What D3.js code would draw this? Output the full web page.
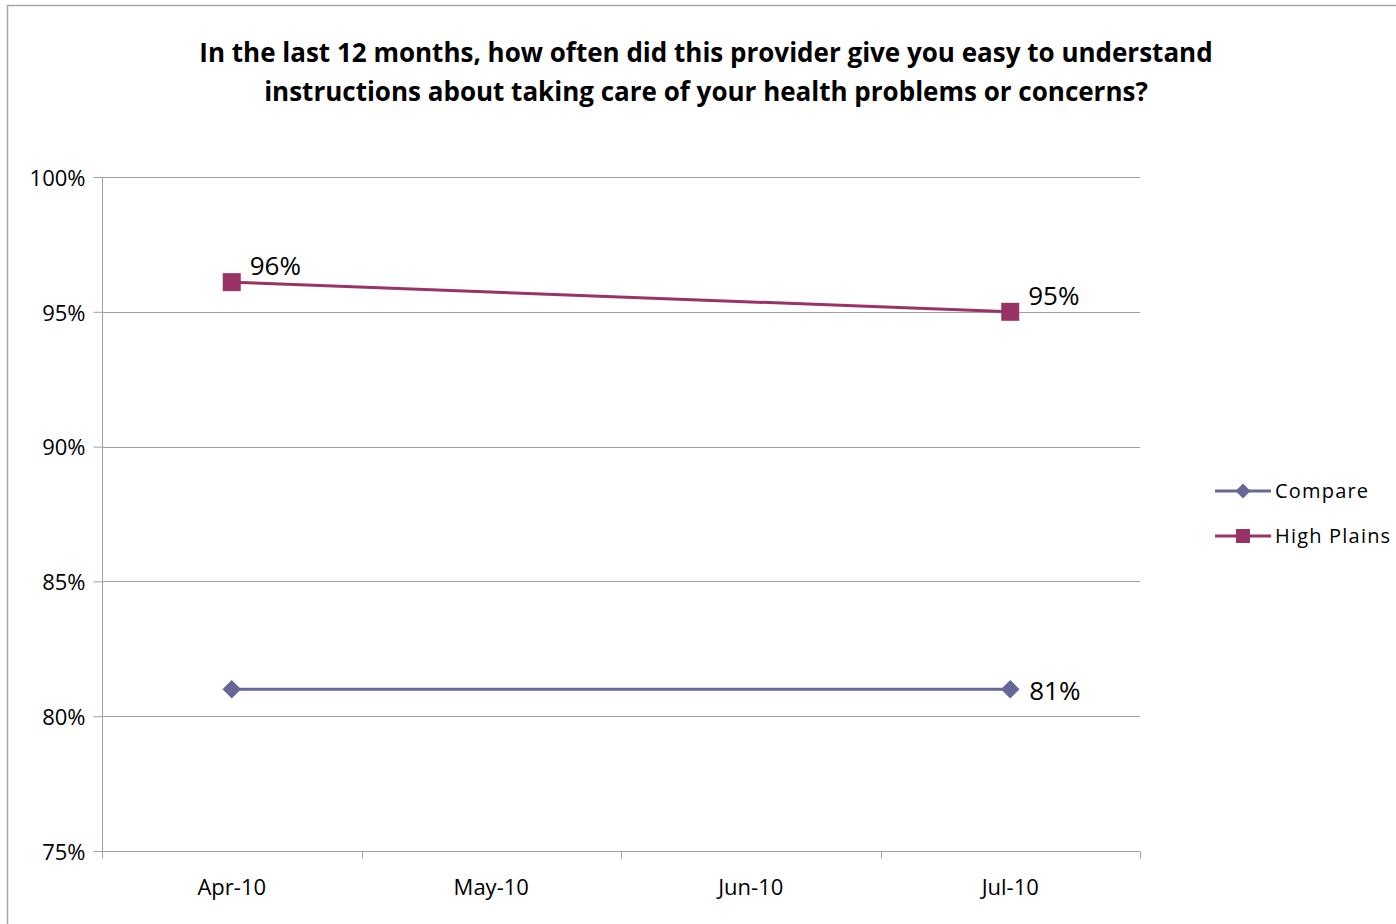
<!DOCTYPE html>
<html><head><meta charset="utf-8">
<script src="https://cdn.jsdelivr.net/npm/d3@7"></script>
<style>body{margin:0;background:#fff}svg{display:block}</style>
</head><body>
<script>
const titleLines = ["In the last 12 months, how often did this provider give you easy to understand",
  "instructions about taking care of your health problems or concerns?"];
const categories = ["Apr-10", "May-10", "Jun-10", "Jul-10"];
const yTicks = [0.75, 0.80, 0.85, 0.90, 0.95, 1.00];
const seriesNames = ["Compare", "High Plains"];
const compareValues = [{cat: "Apr-10", v: 0.81}, {cat: "Jul-10", v: 0.81}];
const highPlainsValues = [{cat: "Apr-10", v: 0.961}, {cat: "Jul-10", v: 0.950}];
const compareLabels = [null, "81%"];
const highPlainsLabels = ["96%", "95%"];

const W = 1396, H = 924;
const svg = d3.select("body").append("svg").attr("width", W).attr("height", H);
const font = "'Open Sans', sans-serif";

svg.append("rect").attr("x", 7.5).attr("y", 5.5).attr("width", 1400).attr("height", 940)
  .attr("fill", "none").attr("stroke", "#a6a6a6").attr("stroke-width", 1.5);

svg.selectAll("text.title").data(titleLines).join("text")
  .attr("x", 706).attr("y", (d, i) => 62 + i * 39)
  .attr("text-anchor", "middle").attr("font-family", font).attr("font-weight", "bold")
  .attr("font-size", 26).attr("fill", "#000").text(d => d);

const x0 = 102, x1 = 1140, yTop = 177, yBot = 851;
const x = d3.scaleBand().domain(categories).range([x0, x1]);
const y = d3.scaleLinear().domain([0.75, 1.0]).range([yBot, yTop]);

// gridlines
svg.append("g").selectAll("line").data(yTicks.slice(1)).join("line")
  .attr("x1", x0).attr("x2", x1).attr("y1", d => Math.round(y(d)) + 0.5).attr("y2", d => Math.round(y(d)) + 0.5)
  .attr("stroke", "#a0a0a0").attr("stroke-width", 1);

// y axis
const yAxis = svg.append("g").attr("transform", `translate(${x0 + 0.5},0)`)
  .call(d3.axisLeft(y).tickValues(yTicks).tickFormat(d3.format(".0%")).tickSize(9).tickPadding(8));
yAxis.select(".domain").attr("stroke", "#a0a0a0").attr("d", `M0,${yTop}V${yBot}`);
yAxis.selectAll(".tick line").attr("stroke", "#a0a0a0");
yAxis.selectAll(".tick text").attr("font-family", font).attr("font-size", 22).attr("fill", "#000").attr("dy", "0.38em");

// x axis
const xAxis = svg.append("g").attr("transform", `translate(0,${yBot + 0.5})`)
  .call(d3.axisBottom(x).tickSize(0).tickPadding(28));
xAxis.select(".domain").attr("stroke", "#a0a0a0").attr("d", `M${x0},0H${x1}`);
xAxis.selectAll(".tick text").attr("font-family", font).attr("font-size", 22).attr("fill", "#000");
const bounds = categories.map(c => x(c)).concat([x1]);
xAxis.selectAll("line.bt").data(bounds).join("line").attr("class", "bt")
  .attr("x1", d => Math.round(d) + 0.5).attr("x2", d => Math.round(d) + 0.5).attr("y1", 0).attr("y2", 7)
  .attr("stroke", "#a0a0a0");

const cx = d => x(d.cat) + x.bandwidth() / 2;
const line = d3.line().x(cx).y(d => y(d.v));
const colCompare = "#666699", colHP = "#993366";

svg.append("path").datum(compareValues).attr("d", line).attr("fill", "none")
  .attr("stroke", colCompare).attr("stroke-width", 3);
svg.append("path").datum(highPlainsValues).attr("d", line).attr("fill", "none")
  .attr("stroke", colHP).attr("stroke-width", 3);

svg.selectAll("path.cm").data(compareValues).join("path").attr("class", "cm")
  .attr("transform", d => `translate(${cx(d)},${y(d.v)}) rotate(45)`)
  .attr("d", d3.symbol().type(d3.symbolSquare).size(170)).attr("fill", colCompare);
svg.selectAll("rect.hm").data(highPlainsValues).join("rect").attr("class", "hm")
  .attr("x", d => cx(d) - 9).attr("y", d => y(d.v) - 9).attr("width", 18).attr("height", 18).attr("fill", colHP);

svg.selectAll("text.lc").data(compareValues.map((d, i) => ({...d, t: compareLabels[i]})).filter(d => d.t)).join("text")
  .attr("x", d => cx(d) + 19).attr("y", d => y(d.v) + 11).attr("font-family", font).attr("font-size", 26)
  .attr("fill", "#000").text(d => d.t);
svg.selectAll("text.lh").data(highPlainsValues.map((d, i) => ({...d, t: highPlainsLabels[i]}))).join("text")
  .attr("x", d => cx(d) + 18).attr("y", d => y(d.v) - 7).attr("font-family", font).attr("font-size", 26)
  .attr("fill", "#000").text(d => d.t);

// legend
const leg = svg.append("g").attr("transform", "translate(1215,491)");
seriesNames.forEach((name, i) => {
  const g = leg.append("g").attr("transform", `translate(0,${i * 45})`);
  const c = i === 0 ? colCompare : colHP;
  g.append("line").attr("x1", 0).attr("x2", 56).attr("y1", 0).attr("y2", 0).attr("stroke", c).attr("stroke-width", 3);
  if (i === 0) g.append("path").attr("transform", "translate(28,0) rotate(45)").attr("d", d3.symbol().type(d3.symbolSquare).size(110)).attr("fill", c);
  else g.append("rect").attr("x", 21).attr("y", -7).attr("width", 14).attr("height", 14).attr("fill", c);
  g.append("text").attr("x", 60).attr("y", 7).attr("font-family", font).attr("font-size", 20)
    .attr("letter-spacing", "1.2px").attr("fill", "#000").text(name);
});
</script>
</body></html>
